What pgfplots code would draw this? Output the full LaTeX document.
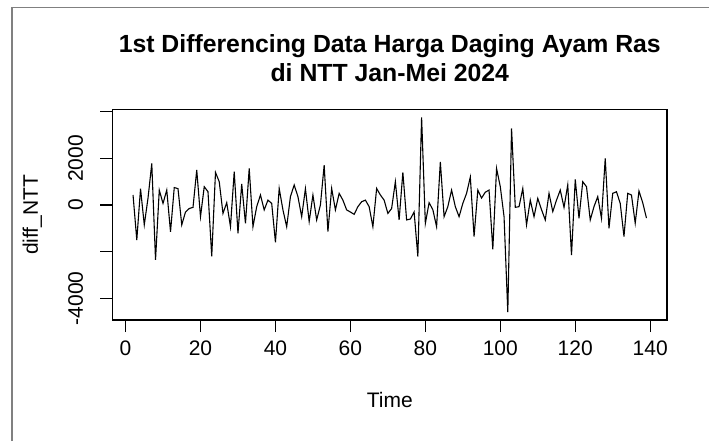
\documentclass[border=0pt]{standalone}
\usepackage{fontspec}
\setmainfont{Liberation Sans}
\usepackage{pgfplots}
\pgfplotsset{compat=1.18}
\begin{document}
\begin{tikzpicture}
% 1 px of the reference = 0.5pt, origin at the top-left corner
\useasboundingbox (0pt,0pt) rectangle (354.5pt,-220.5pt);
\draw[black!50, line width=0.65pt] (6pt,-220.5pt) -- (6pt,-3.6pt) -- (354.5pt,-3.6pt);
\begin{axis}[
  at={(56.25pt,-160pt)}, anchor=south west,
  scale only axis, width=277.25pt, height=105.25pt,
  xmin=-3.48, xmax=144.48, ymin=-4930, ymax=4095,
  axis line style={line width=0.65pt},
  tick align=outside, tick pos=left, major tick length=6pt,
  every tick/.style={black, line width=0.65pt},
  xtick={0,20,...,140},
  ytick={-4000,-2000,0,2000,4000},
  yticklabels={-4000,,0,2000,},
  tick label style={font=\fontsize{10.5}{12.6}\selectfont},
  xticklabel style={anchor=north, inner sep=0pt, yshift=-4pt},
  yticklabel style={xshift=-8.75pt, rotate=90, anchor=base, inner sep=0pt},
  /pgf/number format/assume math mode=true,
]
\addplot[black, line width=0.55pt] coordinates {
(2,430)(3,-1500)(4,700)(5,-850)(6,300)(7,1780)(8,-2350)(9,640)(10,70)
(11,640)(12,-1150)(13,750)(14,700)(15,-850)(16,-300)(17,-150)(18,-100)(19,1500)(20,-500)
(21,785)(22,570)(23,-2200)(24,1400)(25,1000)(26,-360)(27,100)(28,-930)(29,1430)(30,-1210)
(31,900)(32,-790)(33,1570)(34,-930)(35,-70)(36,430)(37,-210)(38,210)(39,70)(40,-1600)
(41,710)(42,-210)(43,-930)(44,360)(45,860)(46,360)(47,-500)(48,700)(49,-710)(50,430)
(51,-640)(52,0)(53,1710)(54,-1140)(55,710)(56,-210)(57,500)(58,210)(59,-210)(60,-300)
(61,-400)(62,-70)(63,140)(64,210)(65,-70)(66,-930)(67,710)(68,430)(69,210)(70,-360)
(71,-150)(72,1000)(73,-640)(74,1400)(75,-640)(76,-600)(77,-300)(78,-2210)(79,3760)(80,-790)
(81,100)(82,-200)(83,-930)(84,1850)(85,-500)(86,-70)(87,640)(88,-70)(89,-500)(90,70)
(91,500)(92,1200)(93,-1350)(94,640)(95,300)(96,550)(97,640)(98,-1900)(99,1570)(100,785)
(101,-500)(102,-4595)(103,3280)(104,-100)(105,-70)(106,710)(107,-850)(108,210)(109,-500)(110,285)
(111,-200)(112,-640)(113,500)(114,-280)(115,210)(116,640)(117,-100)(118,860)(119,-2150)(120,1100)
(121,-570)(122,1000)(123,785)(124,-640)(125,-70)(126,360)(127,-570)(128,2000)(129,-1000)(130,500)
(131,570)(132,70)(133,-1350)(134,500)(135,430)(136,-780)(137,600)(138,100)(139,-560)
};
\end{axis}
\node[anchor=base, font=\fontsize{12.4}{14.9}\selectfont\bfseries, inner sep=0pt] at (194.9pt,-26pt) {1st Differencing Data Harga Daging Ayam Ras};
\node[anchor=base, font=\fontsize{12.4}{14.9}\selectfont\bfseries, inner sep=0pt] at (194.9pt,-40.5pt) {di NTT Jan-Mei 2024};
\node[anchor=base, font=\fontsize{10.5}{12.6}\selectfont, inner sep=0pt] at (194.9pt,-203.5pt) {Time};
\node[anchor=base, rotate=90, font=\fontsize{10.5}{12.6}\selectfont, inner sep=0pt] at (19pt,-107.4pt) {diff\_NTT};
\end{tikzpicture}
\end{document}
